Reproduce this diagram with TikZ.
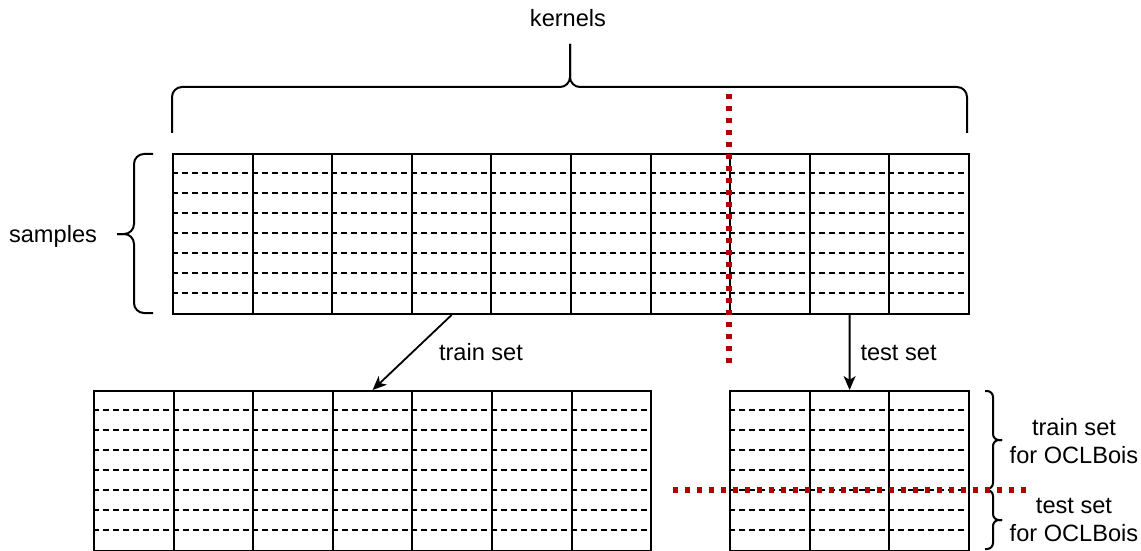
\documentclass[tikz,border=0pt]{standalone}
\usepackage{fontspec}
\setmainfont{Liberation Sans}
\usetikzlibrary{calc, positioning, arrows.meta}
\definecolor{cutred}{RGB}{178,0,0}

\begin{document}
\begin{tikzpicture}[
    x=0.5pt, y=-0.5pt,
    col/.style={draw, line width=1pt, minimum width=39.8pt, minimum height=80pt,
      inner sep=0pt, anchor=north west},
    rowline/.style={line width=0.9pt, dash pattern=on 3pt off 2pt},
    brace/.style={line width=1pt, rounded corners=5pt},
    cut/.style={draw=cutred, line width=2.6pt, dash pattern=on 2.6pt off 3.4pt},
    split/.style={-{Stealth[length=7pt, width=6pt, inset=2pt]}, line width=0.9pt},
    lbl/.style={font=\fontsize{11.8}{14}\selectfont, align=center, inner sep=0pt},
  ]
  \useasboundingbox (0,0) rectangle (1141,551);

  % whole set: one column per kernel, 8 sample rows
  \foreach \i in {1,...,10} {
    \node[col] (all-\i) at ({172+(\i-1)*79.6},153) {};
    \foreach \k in {1,...,7}
      \draw[rowline] ($(all-\i.north west)+(0,20*\k)$) -- ($(all-\i.north east)+(0,20*\k)$);
  }

  % kernels kept for training
  \foreach \i in {1,...,7} {
    \node[col] (train-\i) at ({93+(\i-1)*79.6},390) {};
    \foreach \k in {1,...,7}
      \draw[rowline] ($(train-\i.north west)+(0,20*\k)$) -- ($(train-\i.north east)+(0,20*\k)$);
  }

  % kernels held out for testing
  \foreach \i in {1,...,3} {
    \node[col] (test-\i) at ({729.2+(\i-1)*79.6},390) {};
    \foreach \k in {1,...,7}
      \draw[rowline] ($(test-\i.north west)+(0,20*\k)$) -- ($(test-\i.north east)+(0,20*\k)$);
  }

  % braces
  \draw[brace] (172,133) -- (172,87) -- (570,87) -- (570,44);
  \draw[brace] (967,133) -- (967,87) -- (570,87) -- (570,44);
  \draw[brace] (153,154) -- (134,154) -- (134,234) -- (117,234);
  \draw[brace] (153,313) -- (134,313) -- (134,234) -- (117,234);
  \draw[brace, rounded corners=3pt] (985,391) -- (993,391) -- (993,440) -- (1002,440);
  \draw[brace, rounded corners=3pt] (985,489) -- (993,489) -- (993,440) -- (1002,440);
  \draw[brace, rounded corners=3pt] (985,490) -- (993,490) -- (993,520) -- (1002,520);
  \draw[brace, rounded corners=3pt] (985,549) -- (993,549) -- (993,520) -- (1002,520);

  \node[lbl] (kernels) at (568,18) {kernels};
  \node[lbl] (samples) at (53,236) {samples};
  \node[lbl] (oclTrain) at (1074,441) {train set\\for OCLBois};
  \node[lbl] (oclTest) at (1074,520) {test set\\for OCLBois};

  % split lines
  \draw[cut] (729,94) -- (729,368);
  \draw[cut] (673,490) -- (1026,490);

  \draw[split] (all-4.south) -- (train-4.north)
    node[lbl, midway, right=13pt] {train set};
  \draw[split] (all-9.south) -- (test-2.north)
    node[lbl, midway, right=5pt] {test set};
\end{tikzpicture}
\end{document}
